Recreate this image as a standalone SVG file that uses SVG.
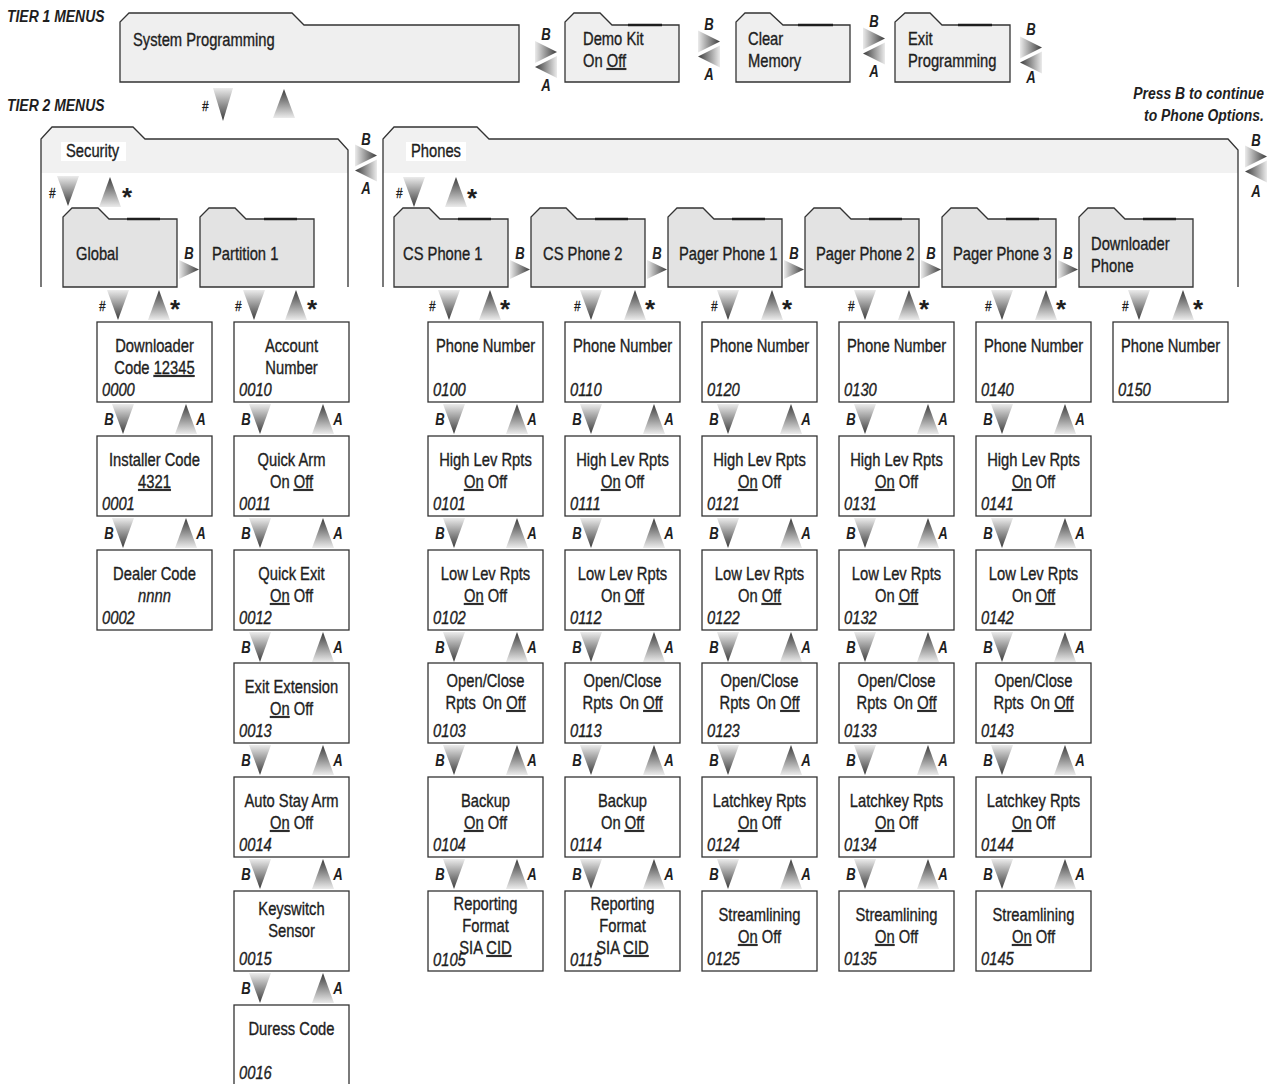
<svg xmlns="http://www.w3.org/2000/svg" width="1275" height="1084" viewBox="0 0 1275 1084">
<style>
.t{font-family:"Liberation Sans Narrow","Liberation Sans",Arial,sans-serif;font-size:18px;fill:#1e1e1e;stroke:#1e1e1e;stroke-width:0.35;transform-box:fill-box;transform-origin:0 50%;transform:scaleX(.82)}
.t.m{transform-origin:50% 50%}
.t.e{transform-origin:100% 50%}
.m{text-anchor:middle}
.e{text-anchor:end}
.i{font-style:italic}
.bi{font-style:italic;font-weight:bold;stroke-width:0}
.h{font-size:17px}
.ab{font-size:16px}
.hs{font-size:14px;font-style:italic}
.st{font-family:"Liberation Sans",Arial,sans-serif;font-size:26px;font-weight:bold;fill:#1e1e1e;text-anchor:middle}
.u{text-decoration:underline}
.box{fill:#fff;stroke:#333;stroke-width:1.3}
.f1{fill:#efefef;stroke:#333;stroke-width:1.3}
.f3{fill:#e3e3e3;stroke:#333;stroke-width:1.3}
.tl{stroke:#1e1e1e;stroke-width:2.4}
.band{fill:#f1f1f1}
.edge{fill:none;stroke:#333;stroke-width:1.3}
.lb{fill:#fff}
</style>
<defs>
<linearGradient id="gD" x1="0" y1="0" x2="0" y2="1"><stop offset="0" stop-color="#ebebeb"/><stop offset="1" stop-color="#3a3a3a"/></linearGradient>
<linearGradient id="gU" x1="0" y1="1" x2="0" y2="0"><stop offset="0" stop-color="#ebebeb"/><stop offset="1" stop-color="#3a3a3a"/></linearGradient>
<linearGradient id="gR" x1="0" y1="0" x2="1" y2="0"><stop offset="0" stop-color="#ebebeb"/><stop offset="1" stop-color="#3a3a3a"/></linearGradient>
<linearGradient id="gL" x1="1" y1="0" x2="0" y2="0"><stop offset="0" stop-color="#ebebeb"/><stop offset="1" stop-color="#3a3a3a"/></linearGradient>
<polygon id="aD" points="0,0 22,0 11,30" fill="url(#gD)"/>
<polygon id="aU" points="0,30 22,30 11,0" fill="url(#gU)"/>
<polygon id="aR" points="0,0 20,9.5 0,19" fill="url(#gR)"/>
<polygon id="pR" points="0,0 22,11 0,22" fill="url(#gR)"/>
<polygon id="pL" points="22,0 0,11 22,22" fill="url(#gL)"/>
</defs>

<g id="headings">
<text class="t bi h" x="7" y="22">TIER 1 MENUS</text>
<text class="t bi h" x="7" y="111">TIER 2 MENUS</text>
<text class="t bi h e" x="1264" y="99">Press B to continue</text>
<text class="t bi h e" x="1264" y="121">to Phone Options.</text>
</g>

<!-- Tier 1 -->
<g id="system-programming">
<path class="f1" d="M120,82V22L129,13H292L304,25H519V82Z"/>
<text class="t" x="133" y="46">System Programming</text>
</g>
<g id="demo-kit">
<path class="f1" d="M565,82V22L574,13H600L612,25H679V82Z"/>
<line class="tl" x1="628" y1="25" x2="662" y2="25"/>
<text class="t" x="583" y="45">Demo Kit</text>
<text class="t" x="583" y="67">On <tspan class="u">Off</tspan></text>
</g>
<g id="clear-memory">
<path class="f1" d="M736,82V22L745,13H770L783,25H850V82Z"/>
<line class="tl" x1="798" y1="25" x2="833" y2="25"/>
<text class="t" x="748" y="45">Clear</text>
<text class="t" x="748" y="67">Memory</text>
</g>
<g id="exit-programming">
<path class="f1" d="M895,82V22L905,13H930L942,25H1010V82Z"/>
<line class="tl" x1="958" y1="25" x2="992" y2="25"/>
<text class="t" x="908" y="45">Exit</text>
<text class="t" x="908" y="67">Programming</text>
</g>

<!-- Tier 2 -->
<g id="security">
<path class="band" d="M41,173V139L52,127H133L145,139H338L348,150V173Z"/>
<path class="edge" d="M41,287V139L52,127H133L145,139H338L348,150V287"/>
<rect class="lb" x="61" y="142" width="65" height="19"/>
<text class="t" x="66" y="157">Security</text>
</g>
<g id="phones">
<path class="band" d="M383,173V139L394,127H477L489,139H1228L1238,150V173Z"/>
<path class="edge" d="M383,287V139L394,127H477L489,139H1228L1238,150V287"/>
<rect class="lb" x="406" y="142" width="60" height="19"/>
<text class="t" x="411" y="157">Phones</text>
</g>

<!-- Tier 3 folders -->
<g id="global"><path class="f3" d="M63,287V217L72,208H98L109,219H177V287Z"/><line class="tl" x1="127" y1="219" x2="160" y2="219"/><text class="t" x="76" y="260">Global</text></g>
<g id="partition-1"><path class="f3" d="M200,287V217L209,208H235L246,219H314V287Z"/><line class="tl" x1="264" y1="219" x2="297" y2="219"/><text class="t" x="212" y="260">Partition 1</text></g>
<g id="cs-phone-1"><path class="f3" d="M394,287V217L403,208H429L440,219H508V287Z"/><line class="tl" x1="458" y1="219" x2="491" y2="219"/><text class="t" x="403" y="260">CS Phone 1</text></g>
<g id="cs-phone-2"><path class="f3" d="M531,287V217L540,208H566L577,219H645V287Z"/><line class="tl" x1="595" y1="219" x2="628" y2="219"/><text class="t" x="543" y="260">CS Phone 2</text></g>
<g id="pager-phone-1"><path class="f3" d="M668,287V217L677,208H703L714,219H782V287Z"/><line class="tl" x1="732" y1="219" x2="765" y2="219"/><text class="t" x="679" y="260">Pager Phone 1</text></g>
<g id="pager-phone-2"><path class="f3" d="M805,287V217L814,208H840L851,219H919V287Z"/><line class="tl" x1="869" y1="219" x2="902" y2="219"/><text class="t" x="816" y="260">Pager Phone 2</text></g>
<g id="pager-phone-3"><path class="f3" d="M942,287V217L951,208H977L988,219H1056V287Z"/><line class="tl" x1="1006" y1="219" x2="1039" y2="219"/><text class="t" x="953" y="260">Pager Phone 3</text></g>
<g id="downloader-phone"><path class="f3" d="M1079,287V217L1088,208H1114L1125,219H1193V287Z"/><line class="tl" x1="1143" y1="219" x2="1176" y2="219"/><text class="t" x="1091" y="250">Downloader</text><text class="t" x="1091" y="272">Phone</text></g>

<!-- Global column -->
<g id="n0000"><rect class="box" x="97" y="322" width="115" height="80"/><text class="t m" x="154.5" y="352">Downloader</text><text class="t m" x="154.5" y="374">Code<tspan dx="5" class="u">12345</tspan></text><text class="t i" x="102" y="396">0000</text></g>
<g id="n0001"><rect class="box" x="97" y="436" width="115" height="80"/><text class="t m" x="154.5" y="466">Installer Code</text><text class="t m u" x="154.5" y="488">4321</text><text class="t i" x="102" y="510">0001</text></g>
<g id="n0002"><rect class="box" x="97" y="550" width="115" height="80"/><text class="t m" x="154.5" y="580">Dealer Code</text><text class="t m i" x="154.5" y="602">nnnn</text><text class="t i" x="102" y="624">0002</text></g>

<!-- Partition column -->
<g id="n0010"><rect class="box" x="234" y="322" width="115" height="80"/><text class="t m" x="291.5" y="352">Account</text><text class="t m" x="291.5" y="374">Number</text><text class="t i" x="239" y="396">0010</text></g>
<g id="n0011"><rect class="box" x="234" y="436" width="115" height="80"/><text class="t m" x="291.5" y="466">Quick Arm</text><text class="t m" x="291.5" y="488">On <tspan class="u">Off</tspan></text><text class="t i" x="239" y="510">0011</text></g>
<g id="n0012"><rect class="box" x="234" y="550" width="115" height="80"/><text class="t m" x="291.5" y="580">Quick Exit</text><text class="t m" x="291.5" y="602"><tspan class="u">On</tspan> Off</text><text class="t i" x="239" y="624">0012</text></g>
<g id="n0013"><rect class="box" x="234" y="663" width="115" height="80"/><text class="t m" x="291.5" y="693">Exit Extension</text><text class="t m" x="291.5" y="715"><tspan class="u">On</tspan> Off</text><text class="t i" x="239" y="737">0013</text></g>
<g id="n0014"><rect class="box" x="234" y="777" width="115" height="80"/><text class="t m" x="291.5" y="807">Auto Stay Arm</text><text class="t m" x="291.5" y="829"><tspan class="u">On</tspan> Off</text><text class="t i" x="239" y="851">0014</text></g>
<g id="n0015"><rect class="box" x="234" y="891" width="115" height="80"/><text class="t m" x="291.5" y="915">Keyswitch</text><text class="t m" x="291.5" y="937">Sensor</text><text class="t i" x="239" y="965">0015</text></g>
<g id="n0016"><rect class="box" x="234" y="1005" width="115" height="82"/><text class="t m" x="291.5" y="1035">Duress Code</text><text class="t i" x="239" y="1079">0016</text></g>

<!-- CS Phone 1 column -->
<g id="n0100"><rect class="box" x="428" y="322" width="115" height="80"/><text class="t m" x="485.5" y="352">Phone Number</text><text class="t i" x="433" y="396">0100</text></g>
<g id="n0101"><rect class="box" x="428" y="436" width="115" height="80"/><text class="t m" x="485.5" y="466">High Lev Rpts</text><text class="t m" x="485.5" y="488"><tspan class="u">On</tspan> Off</text><text class="t i" x="433" y="510">0101</text></g>
<g id="n0102"><rect class="box" x="428" y="550" width="115" height="80"/><text class="t m" x="485.5" y="580">Low Lev Rpts</text><text class="t m" x="485.5" y="602"><tspan class="u">On</tspan> Off</text><text class="t i" x="433" y="624">0102</text></g>
<g id="n0103"><rect class="box" x="428" y="663" width="115" height="80"/><text class="t m" x="485.5" y="687">Open/Close</text><text class="t m" x="485.5" y="709">Rpts <tspan dx="3">On</tspan> <tspan class="u">Off</tspan></text><text class="t i" x="433" y="737">0103</text></g>
<g id="n0104"><rect class="box" x="428" y="777" width="115" height="80"/><text class="t m" x="485.5" y="807">Backup</text><text class="t m" x="485.5" y="829"><tspan class="u">On</tspan> Off</text><text class="t i" x="433" y="851">0104</text></g>
<g id="n0105"><rect class="box" x="428" y="891" width="115" height="80"/><text class="t m" x="485.5" y="910">Reporting</text><text class="t m" x="485.5" y="932">Format</text><text class="t m" x="485.5" y="954">SIA <tspan class="u">CID</tspan></text><text class="t i" x="433" y="966">0105</text></g>

<!-- CS Phone 2 column -->
<g id="n0110"><rect class="box" x="565" y="322" width="115" height="80"/><text class="t m" x="622.5" y="352">Phone Number</text><text class="t i" x="570" y="396">0110</text></g>
<g id="n0111"><rect class="box" x="565" y="436" width="115" height="80"/><text class="t m" x="622.5" y="466">High Lev Rpts</text><text class="t m" x="622.5" y="488"><tspan class="u">On</tspan> Off</text><text class="t i" x="570" y="510">0111</text></g>
<g id="n0112"><rect class="box" x="565" y="550" width="115" height="80"/><text class="t m" x="622.5" y="580">Low Lev Rpts</text><text class="t m" x="622.5" y="602">On <tspan class="u">Off</tspan></text><text class="t i" x="570" y="624">0112</text></g>
<g id="n0113"><rect class="box" x="565" y="663" width="115" height="80"/><text class="t m" x="622.5" y="687">Open/Close</text><text class="t m" x="622.5" y="709">Rpts <tspan dx="3">On</tspan> <tspan class="u">Off</tspan></text><text class="t i" x="570" y="737">0113</text></g>
<g id="n0114"><rect class="box" x="565" y="777" width="115" height="80"/><text class="t m" x="622.5" y="807">Backup</text><text class="t m" x="622.5" y="829">On <tspan class="u">Off</tspan></text><text class="t i" x="570" y="851">0114</text></g>
<g id="n0115"><rect class="box" x="565" y="891" width="115" height="80"/><text class="t m" x="622.5" y="910">Reporting</text><text class="t m" x="622.5" y="932">Format</text><text class="t m" x="622.5" y="954">SIA <tspan class="u">CID</tspan></text><text class="t i" x="570" y="966">0115</text></g>

<!-- Pager Phone 1 column -->
<g id="n0120"><rect class="box" x="702" y="322" width="115" height="80"/><text class="t m" x="759.5" y="352">Phone Number</text><text class="t i" x="707" y="396">0120</text></g>
<g id="n0121"><rect class="box" x="702" y="436" width="115" height="80"/><text class="t m" x="759.5" y="466">High Lev Rpts</text><text class="t m" x="759.5" y="488"><tspan class="u">On</tspan> Off</text><text class="t i" x="707" y="510">0121</text></g>
<g id="n0122"><rect class="box" x="702" y="550" width="115" height="80"/><text class="t m" x="759.5" y="580">Low Lev Rpts</text><text class="t m" x="759.5" y="602">On <tspan class="u">Off</tspan></text><text class="t i" x="707" y="624">0122</text></g>
<g id="n0123"><rect class="box" x="702" y="663" width="115" height="80"/><text class="t m" x="759.5" y="687">Open/Close</text><text class="t m" x="759.5" y="709">Rpts <tspan dx="3">On</tspan> <tspan class="u">Off</tspan></text><text class="t i" x="707" y="737">0123</text></g>
<g id="n0124"><rect class="box" x="702" y="777" width="115" height="80"/><text class="t m" x="759.5" y="807">Latchkey Rpts</text><text class="t m" x="759.5" y="829"><tspan class="u">On</tspan> Off</text><text class="t i" x="707" y="851">0124</text></g>
<g id="n0125"><rect class="box" x="702" y="891" width="115" height="80"/><text class="t m" x="759.5" y="921">Streamlining</text><text class="t m" x="759.5" y="943"><tspan class="u">On</tspan> Off</text><text class="t i" x="707" y="965">0125</text></g>

<!-- Pager Phone 2 column -->
<g id="n0130"><rect class="box" x="839" y="322" width="115" height="80"/><text class="t m" x="896.5" y="352">Phone Number</text><text class="t i" x="844" y="396">0130</text></g>
<g id="n0131"><rect class="box" x="839" y="436" width="115" height="80"/><text class="t m" x="896.5" y="466">High Lev Rpts</text><text class="t m" x="896.5" y="488"><tspan class="u">On</tspan> Off</text><text class="t i" x="844" y="510">0131</text></g>
<g id="n0132"><rect class="box" x="839" y="550" width="115" height="80"/><text class="t m" x="896.5" y="580">Low Lev Rpts</text><text class="t m" x="896.5" y="602">On <tspan class="u">Off</tspan></text><text class="t i" x="844" y="624">0132</text></g>
<g id="n0133"><rect class="box" x="839" y="663" width="115" height="80"/><text class="t m" x="896.5" y="687">Open/Close</text><text class="t m" x="896.5" y="709">Rpts <tspan dx="3">On</tspan> <tspan class="u">Off</tspan></text><text class="t i" x="844" y="737">0133</text></g>
<g id="n0134"><rect class="box" x="839" y="777" width="115" height="80"/><text class="t m" x="896.5" y="807">Latchkey Rpts</text><text class="t m" x="896.5" y="829"><tspan class="u">On</tspan> Off</text><text class="t i" x="844" y="851">0134</text></g>
<g id="n0135"><rect class="box" x="839" y="891" width="115" height="80"/><text class="t m" x="896.5" y="921">Streamlining</text><text class="t m" x="896.5" y="943"><tspan class="u">On</tspan> Off</text><text class="t i" x="844" y="965">0135</text></g>

<!-- Pager Phone 3 column -->
<g id="n0140"><rect class="box" x="976" y="322" width="115" height="80"/><text class="t m" x="1033.5" y="352">Phone Number</text><text class="t i" x="981" y="396">0140</text></g>
<g id="n0141"><rect class="box" x="976" y="436" width="115" height="80"/><text class="t m" x="1033.5" y="466">High Lev Rpts</text><text class="t m" x="1033.5" y="488"><tspan class="u">On</tspan> Off</text><text class="t i" x="981" y="510">0141</text></g>
<g id="n0142"><rect class="box" x="976" y="550" width="115" height="80"/><text class="t m" x="1033.5" y="580">Low Lev Rpts</text><text class="t m" x="1033.5" y="602">On <tspan class="u">Off</tspan></text><text class="t i" x="981" y="624">0142</text></g>
<g id="n0143"><rect class="box" x="976" y="663" width="115" height="80"/><text class="t m" x="1033.5" y="687">Open/Close</text><text class="t m" x="1033.5" y="709">Rpts <tspan dx="3">On</tspan> <tspan class="u">Off</tspan></text><text class="t i" x="981" y="737">0143</text></g>
<g id="n0144"><rect class="box" x="976" y="777" width="115" height="80"/><text class="t m" x="1033.5" y="807">Latchkey Rpts</text><text class="t m" x="1033.5" y="829"><tspan class="u">On</tspan> Off</text><text class="t i" x="981" y="851">0144</text></g>
<g id="n0145"><rect class="box" x="976" y="891" width="115" height="80"/><text class="t m" x="1033.5" y="921">Streamlining</text><text class="t m" x="1033.5" y="943"><tspan class="u">On</tspan> Off</text><text class="t i" x="981" y="965">0145</text></g>

<!-- Downloader Phone column -->
<g id="n0150"><rect class="box" x="1113" y="322" width="115" height="80"/><text class="t m" x="1170.5" y="352">Phone Number</text><text class="t i" x="1118" y="396">0150</text></g>

<g id="connectors">
<use href="#pR" x="535" y="41"/><use href="#pL" x="535" y="56"/>
<text class="t bi ab m" x="546" y="40">B</text><text class="t bi ab m" x="546" y="91">A</text>
<use href="#pR" x="698" y="30.5"/><use href="#pL" x="698" y="45.5"/>
<text class="t bi ab m" x="709" y="30">B</text><text class="t bi ab m" x="709" y="80">A</text>
<use href="#pR" x="863" y="27.5"/><use href="#pL" x="863" y="42.5"/>
<text class="t bi ab m" x="874" y="27">B</text><text class="t bi ab m" x="874" y="77">A</text>
<use href="#pR" x="1020" y="36.5"/><use href="#pL" x="1020" y="51.5"/>
<text class="t bi ab m" x="1031" y="35">B</text><text class="t bi ab m" x="1031" y="83">A</text>
<polygon points="213,88 233,88 223,121" fill="url(#gD)"/>
<polygon points="273,118 295,118 284,89" fill="url(#gU)"/>
<text class="t hs m" x="205" y="111">#</text>
<use href="#pR" x="355" y="144.5"/><use href="#pL" x="355" y="159.5"/>
<text class="t bi ab m" x="366" y="145">B</text><text class="t bi ab m" x="366" y="194">A</text>
<use href="#pR" x="1245" y="145.5"/><use href="#pL" x="1245" y="160.5"/>
<text class="t bi ab m" x="1256" y="146">B</text><text class="t bi ab m" x="1256" y="197">A</text>
<use href="#aD" x="57" y="176"/><use href="#aU" x="99" y="177"/>
<text class="t hs m" x="52" y="198">#</text><text class="st" x="127" y="206">*</text>
<use href="#aD" x="403" y="177"/><use href="#aU" x="445" y="177"/>
<text class="t hs m" x="399" y="198">#</text><text class="st" x="472" y="207">*</text>
<use href="#aR" x="179" y="260"/><text class="t bi ab m" x="189" y="259">B</text>
<use href="#aR" x="510" y="260"/><text class="t bi ab m" x="520" y="259">B</text>
<use href="#aR" x="647" y="260"/><text class="t bi ab m" x="657" y="259">B</text>
<use href="#aR" x="784" y="260"/><text class="t bi ab m" x="794" y="259">B</text>
<use href="#aR" x="921" y="260"/><text class="t bi ab m" x="931" y="259">B</text>
<use href="#aR" x="1058" y="260"/><text class="t bi ab m" x="1068" y="259">B</text>
<use href="#aD" x="107" y="290"/><use href="#aU" x="148" y="290"/><text class="t hs m" x="102" y="311">#</text><text class="st" x="175" y="318">*</text>
<use href="#aD" x="243" y="290"/><use href="#aU" x="285" y="290"/><text class="t hs m" x="238" y="311">#</text><text class="st" x="312" y="318">*</text>
<use href="#aD" x="438" y="290"/><use href="#aU" x="479" y="290"/><text class="t hs m" x="432" y="311">#</text><text class="st" x="505" y="318">*</text>
<use href="#aD" x="580" y="290"/><use href="#aU" x="624" y="290"/><text class="t hs m" x="577" y="311">#</text><text class="st" x="650" y="318">*</text>
<use href="#aD" x="717" y="290"/><use href="#aU" x="761" y="290"/><text class="t hs m" x="714" y="311">#</text><text class="st" x="787" y="318">*</text>
<use href="#aD" x="854" y="290"/><use href="#aU" x="898" y="290"/><text class="t hs m" x="851" y="311">#</text><text class="st" x="924" y="318">*</text>
<use href="#aD" x="991" y="290"/><use href="#aU" x="1035" y="290"/><text class="t hs m" x="988" y="311">#</text><text class="st" x="1061" y="318">*</text>
<use href="#aD" x="1128" y="290"/><use href="#aU" x="1172" y="290"/><text class="t hs m" x="1125" y="311">#</text><text class="st" x="1198" y="318">*</text>
<use href="#aD" x="112" y="404"/><use href="#aU" x="175" y="404"/><text class="t bi ab m" x="109" y="425">B</text><text class="t bi ab m" x="201" y="425">A</text>
<use href="#aD" x="112" y="518"/><use href="#aU" x="175" y="518"/><text class="t bi ab m" x="109" y="539">B</text><text class="t bi ab m" x="201" y="539">A</text>
<use href="#aD" x="249" y="404"/><use href="#aU" x="312" y="404"/><text class="t bi ab m" x="246" y="425">B</text><text class="t bi ab m" x="338" y="425">A</text>
<use href="#aD" x="249" y="518"/><use href="#aU" x="312" y="518"/><text class="t bi ab m" x="246" y="539">B</text><text class="t bi ab m" x="338" y="539">A</text>
<use href="#aD" x="249" y="632"/><use href="#aU" x="312" y="632"/><text class="t bi ab m" x="246" y="653">B</text><text class="t bi ab m" x="338" y="653">A</text>
<use href="#aD" x="249" y="745"/><use href="#aU" x="312" y="745"/><text class="t bi ab m" x="246" y="766">B</text><text class="t bi ab m" x="338" y="766">A</text>
<use href="#aD" x="249" y="859"/><use href="#aU" x="312" y="859"/><text class="t bi ab m" x="246" y="880">B</text><text class="t bi ab m" x="338" y="880">A</text>
<use href="#aD" x="249" y="973"/><use href="#aU" x="312" y="973"/><text class="t bi ab m" x="246" y="994">B</text><text class="t bi ab m" x="338" y="994">A</text>
<use href="#aD" x="443" y="404"/><use href="#aU" x="506" y="404"/><text class="t bi ab m" x="440" y="425">B</text><text class="t bi ab m" x="532" y="425">A</text>
<use href="#aD" x="443" y="518"/><use href="#aU" x="506" y="518"/><text class="t bi ab m" x="440" y="539">B</text><text class="t bi ab m" x="532" y="539">A</text>
<use href="#aD" x="443" y="632"/><use href="#aU" x="506" y="632"/><text class="t bi ab m" x="440" y="653">B</text><text class="t bi ab m" x="532" y="653">A</text>
<use href="#aD" x="443" y="745"/><use href="#aU" x="506" y="745"/><text class="t bi ab m" x="440" y="766">B</text><text class="t bi ab m" x="532" y="766">A</text>
<use href="#aD" x="443" y="859"/><use href="#aU" x="506" y="859"/><text class="t bi ab m" x="440" y="880">B</text><text class="t bi ab m" x="532" y="880">A</text>
<use href="#aD" x="580" y="404"/><use href="#aU" x="643" y="404"/><text class="t bi ab m" x="577" y="425">B</text><text class="t bi ab m" x="669" y="425">A</text>
<use href="#aD" x="580" y="518"/><use href="#aU" x="643" y="518"/><text class="t bi ab m" x="577" y="539">B</text><text class="t bi ab m" x="669" y="539">A</text>
<use href="#aD" x="580" y="632"/><use href="#aU" x="643" y="632"/><text class="t bi ab m" x="577" y="653">B</text><text class="t bi ab m" x="669" y="653">A</text>
<use href="#aD" x="580" y="745"/><use href="#aU" x="643" y="745"/><text class="t bi ab m" x="577" y="766">B</text><text class="t bi ab m" x="669" y="766">A</text>
<use href="#aD" x="580" y="859"/><use href="#aU" x="643" y="859"/><text class="t bi ab m" x="577" y="880">B</text><text class="t bi ab m" x="669" y="880">A</text>
<use href="#aD" x="717" y="404"/><use href="#aU" x="780" y="404"/><text class="t bi ab m" x="714" y="425">B</text><text class="t bi ab m" x="806" y="425">A</text>
<use href="#aD" x="717" y="518"/><use href="#aU" x="780" y="518"/><text class="t bi ab m" x="714" y="539">B</text><text class="t bi ab m" x="806" y="539">A</text>
<use href="#aD" x="717" y="632"/><use href="#aU" x="780" y="632"/><text class="t bi ab m" x="714" y="653">B</text><text class="t bi ab m" x="806" y="653">A</text>
<use href="#aD" x="717" y="745"/><use href="#aU" x="780" y="745"/><text class="t bi ab m" x="714" y="766">B</text><text class="t bi ab m" x="806" y="766">A</text>
<use href="#aD" x="717" y="859"/><use href="#aU" x="780" y="859"/><text class="t bi ab m" x="714" y="880">B</text><text class="t bi ab m" x="806" y="880">A</text>
<use href="#aD" x="854" y="404"/><use href="#aU" x="917" y="404"/><text class="t bi ab m" x="851" y="425">B</text><text class="t bi ab m" x="943" y="425">A</text>
<use href="#aD" x="854" y="518"/><use href="#aU" x="917" y="518"/><text class="t bi ab m" x="851" y="539">B</text><text class="t bi ab m" x="943" y="539">A</text>
<use href="#aD" x="854" y="632"/><use href="#aU" x="917" y="632"/><text class="t bi ab m" x="851" y="653">B</text><text class="t bi ab m" x="943" y="653">A</text>
<use href="#aD" x="854" y="745"/><use href="#aU" x="917" y="745"/><text class="t bi ab m" x="851" y="766">B</text><text class="t bi ab m" x="943" y="766">A</text>
<use href="#aD" x="854" y="859"/><use href="#aU" x="917" y="859"/><text class="t bi ab m" x="851" y="880">B</text><text class="t bi ab m" x="943" y="880">A</text>
<use href="#aD" x="991" y="404"/><use href="#aU" x="1054" y="404"/><text class="t bi ab m" x="988" y="425">B</text><text class="t bi ab m" x="1080" y="425">A</text>
<use href="#aD" x="991" y="518"/><use href="#aU" x="1054" y="518"/><text class="t bi ab m" x="988" y="539">B</text><text class="t bi ab m" x="1080" y="539">A</text>
<use href="#aD" x="991" y="632"/><use href="#aU" x="1054" y="632"/><text class="t bi ab m" x="988" y="653">B</text><text class="t bi ab m" x="1080" y="653">A</text>
<use href="#aD" x="991" y="745"/><use href="#aU" x="1054" y="745"/><text class="t bi ab m" x="988" y="766">B</text><text class="t bi ab m" x="1080" y="766">A</text>
<use href="#aD" x="991" y="859"/><use href="#aU" x="1054" y="859"/><text class="t bi ab m" x="988" y="880">B</text><text class="t bi ab m" x="1080" y="880">A</text>
</g>
</svg>
